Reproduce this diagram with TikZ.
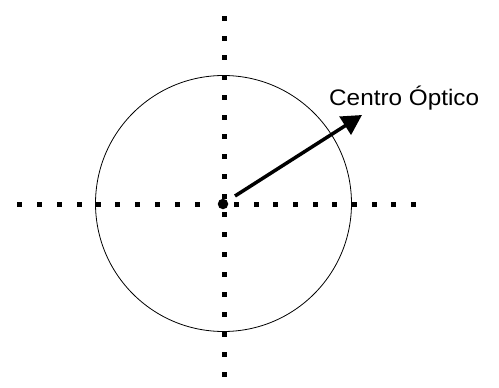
\documentclass[tikz,border=0pt]{standalone}
\usepackage{fontspec}
\usepackage{graphicx}
\setmainfont{Liberation Sans}
\usetikzlibrary{arrows.meta}
\begin{document}
\begin{tikzpicture}[x=1pt,y=-1pt,
  sq/.style={fill=black,draw=none,minimum size=5pt,inner sep=0pt,shape=rectangle},
  lbl/.style={inner sep=0pt,anchor=base west,font=\fontsize{22.5}{26}\selectfont}]
\useasboundingbox (0,0) rectangle (499,388);
% circle
\node[draw=black,line width=0.8pt,circle,minimum size=256pt,inner sep=0pt] (circ) at (223.5,203.5) {};
% horizontal dots
\foreach \x [count=\i] in {19,39,59,79,98,117,137,157,177,197,236,256,275,295,315,334,354,374,393,413}
  \node[sq] (h\i) at (\x,204) {};
% vertical dots
\foreach \y [count=\i] in {18,38,57,77,97,117,136,156,176,196,214,234,254,274,294,314,334,354,374}
  \node[sq] (v\i) at (224,\y) {};
% center
\node[circle,fill=black,minimum size=10.5pt,inner sep=0pt] (c) at (223,204) {};
\coordinate (s) at (235,196);
\coordinate (tip) at (362,115);
\draw[line width=3.5pt,-{Triangle[length=20pt,width=21pt]}] (s) -- (tip);
\node[lbl] (t) at (329,105.5) {\scalebox{1.08}[1]{Centro Óptico}};
\end{tikzpicture}
\end{document}
